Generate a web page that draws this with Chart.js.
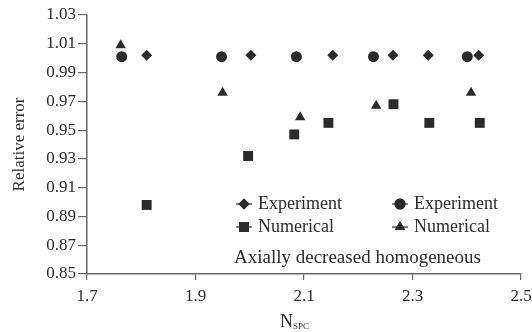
<!DOCTYPE html>
<html>
<head>
    <title>Relative error vs N_SPC</title>
    <script src="https://cdn.jsdelivr.net/npm/chart.js@4.4.0/dist/chart.umd.min.js"></script>
    <style>
        html, body { margin: 0; padding: 0; background: #fff; }
        #wrap { width: 532px; height: 332px; }
    </style>
</head>
<body>
<div id="wrap"><canvas id="chart"></canvas></div>
<script>
    // series values
    const expDiamondX = [1.81, 2.002, 2.153, 2.264, 2.329, 2.422];
    const expDiamondY = [1.002, 1.002, 1.002, 1.002, 1.002, 1.002];
    const expCircleX = [1.764, 1.948, 2.086, 2.228, 2.401];
    const expCircleY = [1.001, 1.001, 1.001, 1.001, 1.001];
    const numSquareX = [1.81, 1.997, 2.082, 2.145, 2.265, 2.331, 2.424];
    const numSquareY = [0.898, 0.932, 0.947, 0.955, 0.968, 0.955, 0.955];
    const numTriangleX = [1.762, 1.950, 2.093, 2.233, 2.408];
    const numTriangleY = [1.009, 0.976, 0.959, 0.967, 0.976];

    // axis ticks and text
    const xTicks = [1.7, 1.9, 2.1, 2.3, 2.5];
    const yTicks = [0.85, 0.87, 0.89, 0.91, 0.93, 0.95, 0.97, 0.99, 1.01, 1.03];
    const seriesNames = ['Experiment', 'Experiment', 'Numerical', 'Numerical'];
    const noteText = 'Axially decreased homogeneous';

    const ink = '#2b2b2b';
    const axisGray = '#666';
    const serif = "'Liberation Serif', 'Times New Roman', serif";

    function pts(xs, ys) {
        return xs.map((x, i) => ({x: x, y: ys[i]}));
    }

    function series(label, data, style, radius) {
        return {
            label: label,
            data: data,
            pointStyle: style,
            pointRadius: radius,
            pointHoverRadius: radius,
            backgroundColor: ink,
            borderColor: ink,
            borderWidth: 0,
            showLine: false
        };
    }

    // legend drawn inside the plot, two columns
    const legendSlots = [
        {ds: 0, x: 244, y: 204},
        {ds: 2, x: 244, y: 227},
        {ds: 1, x: 400, y: 204},
        {ds: 3, x: 400, y: 227}
    ];

    const overlay = {
        id: 'overlay',
        afterDraw(chart) {
            const ctx = chart.ctx;
            ctx.save();
            ctx.fillStyle = ink;
            ctx.strokeStyle = ink;
            ctx.textBaseline = 'middle';
            ctx.textAlign = 'left';
            ctx.font = '18px ' + serif;
            for (const s of legendSlots) {
                const ds = chart.data.datasets[s.ds];
                ctx.lineWidth = 1.2;
                ctx.beginPath();
                ctx.moveTo(s.x - 8, s.y);
                ctx.lineTo(s.x + 8, s.y);
                ctx.stroke();
                Chart.helpers.drawPoint(ctx, {
                    pointStyle: ds.pointStyle,
                    radius: ds.pointRadius,
                    borderWidth: 0
                }, s.x, s.y);
                ctx.fill();
                ctx.fillText(seriesNames[s.ds], s.x + 14, s.y);
            }
            ctx.font = '19px ' + serif;
            ctx.fillText(noteText, 234, 258);

            // x axis title with subscript
            ctx.textBaseline = 'alphabetic';
            ctx.font = '18px ' + serif;
            ctx.fillText('N', 280, 327);
            ctx.font = '9px ' + serif;
            ctx.fillText('SPC', 293, 329);
            ctx.restore();
        }
    };

    new Chart(document.getElementById('chart'), {
        type: 'scatter',
        data: {
            datasets: [
                series(seriesNames[0], pts(expDiamondX, expDiamondY), 'rectRot', 5.5),
                series(seriesNames[1], pts(expCircleX, expCircleY), 'circle', 5.5),
                series(seriesNames[2], pts(numSquareX, numSquareY), 'rect', 7),
                series(seriesNames[3], pts(numTriangleX, numTriangleY), 'triangle', 6)
            ]
        },
        options: {
            responsive: true,
            maintainAspectRatio: false,
            animation: false,
            layout: { padding: { top: 15, right: 11, left: 0, bottom: 0 } },
            plugins: {
                legend: { display: false },
                tooltip: { enabled: false }
            },
            scales: {
                x: {
                    type: 'linear',
                    min: 1.7,
                    max: 2.5,
                    afterBuildTicks: (scale) => { scale.ticks = xTicks.map(v => ({value: v})); },
                    afterFit: (scale) => {
                        scale.height = 58;
                        // let the last label hang into the right margin
                        scale.paddingRight = 0;
                        scale.paddingLeft = 0;
                    },
                    ticks: {
                        color: ink,
                        font: { family: serif, size: 17 },
                        padding: 6,
                        maxRotation: 0,
                        callback: (v) => v.toFixed(1)
                    },
                    grid: { drawOnChartArea: false, color: axisGray, tickLength: 6, lineWidth: 1.2 },
                    border: { color: axisGray, width: 1.5 }
                },
                y: {
                    type: 'linear',
                    min: 0.85,
                    max: 1.03,
                    afterBuildTicks: (scale) => { scale.ticks = yTicks.map(v => ({value: v})); },
                    afterFit: (scale) => { scale.width = 87; },
                    ticks: {
                        color: ink,
                        font: { family: serif, size: 17 },
                        padding: 2,
                        callback: (v) => v.toFixed(2)
                    },
                    grid: { drawOnChartArea: false, color: axisGray, tickLength: 9, lineWidth: 1.2 },
                    border: { color: axisGray, width: 1.5 },
                    title: {
                        display: true,
                        text: 'Relative error',
                        color: ink,
                        font: { family: serif, size: 17 },
                        padding: { top: 9, bottom: 0 }
                    }
                }
            }
        },
        plugins: [overlay]
    });
</script>
</body>
</html>
